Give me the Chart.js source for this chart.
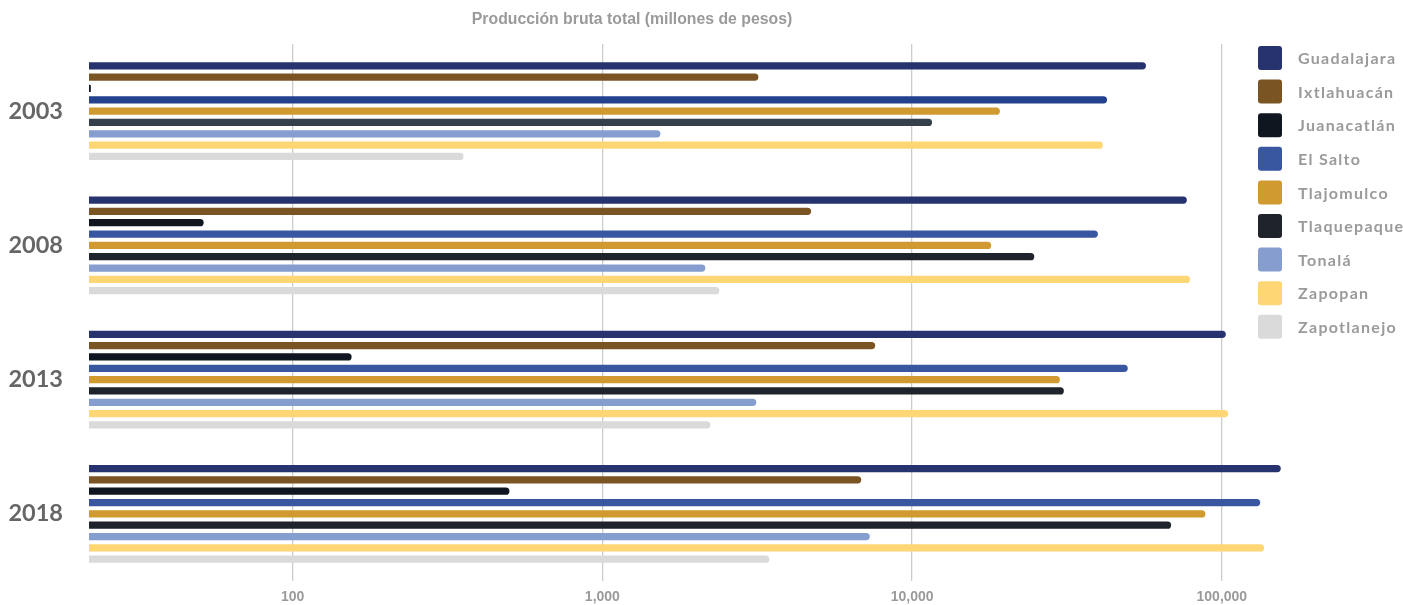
<!DOCTYPE html>
<html>
<head>
<meta charset="utf-8">
<script src="https://cdn.jsdelivr.net/npm/chart.js@4/dist/chart.umd.min.js"></script>
<style>
  html, body { margin: 0; padding: 0; background: #fff; }
  #wrap { width: 1403px; height: 605px; position: relative; }
</style>
</head>
<body>
<div id="wrap"><canvas id="c" width="1403" height="605"></canvas></div>
<script>
const chartTitle = 'Producción bruta total (millones de pesos)';
const years = ['2003', '2008', '2013', '2018'];
const tickValues = [100, 1000, 10000, 100000];

const seriesNames = ['Guadalajara', 'Ixtlahuacán', 'Juanacatlán', 'El Salto', 'Tlajomulco', 'Tlaquepaque', 'Tonalá', 'Zapopan', 'Zapotlanejo'];
const guadalajara = [56900, 77100, 103000, 155000];
const ixtlahuacan = [3190, 4720, 7600, 6850];
const juanacatlan = [22.3, 51.6, 155, 501];
const elSalto = [42600, 39800, 49700, 133000];
const tlajomulco = [19200, 18000, 30000, 88500];
const tlaquepaque = [11600, 24800, 30900, 68600];
const tonala = [1540, 2150, 3140, 7300];
const zapopan = [41300, 78900, 104800, 137000];
const zapotlanejo = [356, 2385, 2230, 3460];

const seriesColors = ['#26336F', '#7B5424', '#0F1620', '#3857A0', '#D09A30', '#1F232B', '#869DCF', '#FED674', '#DADADA'];
// slight tint differences seen in the first year for two series
const elSaltoColors = ['#24418E', '#3857A0', '#3857A0', '#3857A0'];
const tlaquepaqueColors = ['#36404A', '#1F232B', '#1F232B', '#1F232B'];

const seriesValues = [guadalajara, ixtlahuacan, juanacatlan, elSalto, tlajomulco, tlaquepaque, tonala, zapopan, zapotlanejo];

const datasets = seriesNames.map((name, i) => ({
  label: name,
  data: seriesValues[i],
  backgroundColor: i === 3 ? elSaltoColors : (i === 5 ? tlaquepaqueColors : seriesColors[i]),
  legendColor: seriesColors[i],
  borderWidth: 0,
  borderRadius: 4,
  borderSkipped: 'start',
  categoryPercentage: 0.76,
  barPercentage: 0.64
}));

const titlePlugin = {
  id: 'customTitle',
  afterDraw(chart) {
    const ctx = chart.ctx;
    ctx.save();
    ctx.font = 'bold 15.8px "Liberation Sans", Arial, sans-serif';
    ctx.fillStyle = '#9a9a9a';
    ctx.textAlign = 'center';
    ctx.textBaseline = 'middle';
    ctx.fillText(chartTitle, 632, 20);
    ctx.restore();
  }
};

const sideLegend = {
  id: 'sideLegend',
  afterDraw(chart) {
    const ctx = chart.ctx;
    ctx.save();
    const x0 = 1258, y0 = 46, row = 33.6, box = 24;
    chart.data.datasets.forEach((ds, i) => {
      const y = y0 + i * row;
      ctx.fillStyle = ds.legendColor;
      ctx.beginPath();
      if (ctx.roundRect) ctx.roundRect(x0, y, box, box, 3); else ctx.rect(x0, y, box, box);
      ctx.fill();
      ctx.font = 'bold 16px Lato, "Open Sans", sans-serif';
      try { ctx.letterSpacing = '1.3px'; } catch (e) {}
      ctx.fillStyle = '#9a9a9a';
      ctx.textAlign = 'left';
      ctx.textBaseline = 'middle';
      ctx.fillText(ds.label, 1298, y + box / 2 + 1);
    });
    ctx.restore();
  }
};

new Chart(document.getElementById('c'), {
  type: 'bar',
  data: { labels: years, datasets },
  options: {
    indexAxis: 'y',
    responsive: false,
    animation: false,
    layout: { padding: { top: 44, right: 113, bottom: 0, left: 0 } },
    plugins: {
      legend: { display: false },
      title: { display: false },
      tooltip: { enabled: false }
    },
    scales: {
      x: {
        type: 'logarithmic',
        min: 22,
        max: 166000,
        afterBuildTicks(scale) {
          scale.ticks = tickValues.map(v => ({ value: v, major: false }));
        },
        afterFit(scale) { scale.height = 24; scale.paddingLeft = 0; scale.paddingRight = 0; },
        grid: { color: '#cccccc', lineWidth: 1.3, drawTicks: false },
        border: { display: false },
        ticks: {
          padding: 8,
          color: '#9a9a9a',
          font: { family: '"Liberation Sans", Arial, sans-serif', size: 14, weight: 'bold' },
          callback: (v) => Number(v).toLocaleString('en-US'),
          autoSkip: false,
          maxRotation: 0
        }
      },
      y: {
        type: 'category',
        afterFit(scale) { scale.width = 89; scale.paddingTop = 0; scale.paddingBottom = 0; },
        grid: { display: false, drawTicks: false },
        border: { display: false },
        ticks: {
          padding: 26,
          color: '#666666',
          font: { family: 'Lato, "Open Sans", sans-serif', size: 23.5, weight: 'bold' }
        }
      }
    }
  },
  plugins: [titlePlugin, sideLegend]
});
</script>
</body>
</html>
